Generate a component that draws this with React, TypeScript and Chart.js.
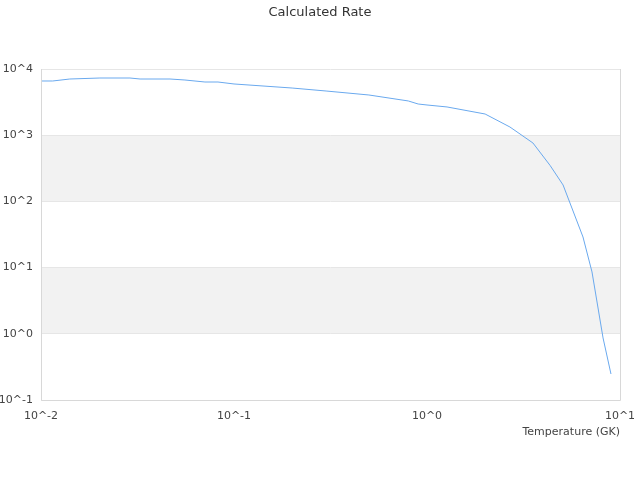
import React, { useEffect, useRef } from "react";
import { Chart, registerables } from "chart.js";

Chart.register(...registerables);

const temperatures = [
  0.01, 0.0115, 0.0141, 0.0202, 0.0289, 0.0326, 0.0466, 0.0557, 0.0707, 0.0826,
  0.1, 0.2, 0.3, 0.5, 0.8, 0.9, 1.0, 1.27, 2.0, 2.69, 3.54, 4.34, 5.07, 6.43,
  7.16, 8.17, 8.98,
];
const rates = [
  6590, 6590, 7060, 7310, 7310, 7060, 7060, 6820, 6360, 6360,
  5940, 5160, 4650, 4050, 3290, 2960, 2860, 2670, 2090, 1330, 762, 350, 177, 29,
  8.6, 0.865, 0.247,
];
const xTickValues = [0.01, 0.1, 1, 10];
const yTickValues = [0.1, 1, 10, 100, 1000, 10000];
const bandRanges = [
  [100, 1000],
  [1, 10],
];
const chartTitle = "Calculated Rate";

const FONT = "'DejaVu Sans', Verdana, sans-serif";

const fmt = (v: number) => "10^" + Math.round(Math.log10(v));

const bandsPlugin = {
  id: "bands",
  beforeDraw(chart: any) {
    const { ctx, chartArea } = chart;
    const y = chart.scales.y;
    ctx.save();
    ctx.fillStyle = "#f2f2f2";
    bandRanges.forEach(([lo, hi]) => {
      const top = y.getPixelForValue(hi);
      const bottom = y.getPixelForValue(lo);
      ctx.fillRect(chartArea.left, top, chartArea.right - chartArea.left, bottom - top);
    });
    ctx.restore();
  },
  afterDraw(chart: any) {
    const { ctx, chartArea } = chart;
    ctx.save();
    ctx.strokeStyle = "#d8d8d8";
    ctx.lineWidth = 1;
    ctx.beginPath();
    ctx.moveTo(chartArea.left + 0.5, chartArea.top);
    ctx.lineTo(chartArea.left + 0.5, chartArea.bottom + 0.5);
    ctx.lineTo(chartArea.right + 0.5, chartArea.bottom + 0.5);
    ctx.lineTo(chartArea.right + 0.5, chartArea.top);
    ctx.stroke();
    ctx.fillStyle = "#333333";
    ctx.font = "13px " + FONT;
    ctx.textAlign = "center";
    ctx.textBaseline = "middle";
    ctx.fillText(chartTitle, chart.width / 2, 12.5);
    ctx.restore();
  },
};

export default function App() {
  const ref = useRef<HTMLCanvasElement>(null);

  useEffect(() => {
    document.body.style.margin = "0";
    const canvas = ref.current;
    if (!canvas) return;
    const chart = new Chart(canvas, {
      type: "line",
      data: {
        datasets: [
          {
            label: "Rate",
            data: temperatures.map((t, i) => ({ x: t, y: rates[i] })),
            borderColor: "#6aa9ee",
            borderWidth: 1,
            pointRadius: 0,
            tension: 0,
            fill: false,
          },
        ],
      },
      options: {
        animation: false,
        responsive: false,
        devicePixelRatio: 1,
        layout: { padding: { left: 0, right: 20, top: 69, bottom: 0 } },
        plugins: {
          legend: { display: false },
          tooltip: { enabled: false },
          title: { display: false },
        },
        scales: {
          x: {
            type: "logarithmic",
            min: 0.01,
            max: 10,
            afterBuildTicks(scale: any) {
              scale.ticks = xTickValues.map((v) => ({ value: v }));
            },
            afterFit(scale: any) {
              scale.height = 80;
            },
            grid: { display: false },
            border: { display: false },
            ticks: {
              autoSkip: false,
              maxRotation: 0,
              padding: 2,
              color: "#444444",
              font: { family: FONT, size: 11 },
              callback: (v: any) => fmt(Number(v)),
            },
            title: {
              display: true,
              text: "Temperature (GK)",
              align: "end",
              color: "#444444",
              font: { family: FONT, size: 11 },
              padding: { top: 0, bottom: 41 },
            },
          },
          y: {
            type: "logarithmic",
            min: 0.1,
            max: 10000,
            afterBuildTicks(scale: any) {
              scale.ticks = yTickValues.map((v) => ({ value: v }));
            },
            afterFit(scale: any) {
              scale.width = 41;
            },
            grid: { color: "#e6e6e6", drawTicks: false },
            border: { display: false },
            ticks: {
              autoSkip: false,
              padding: 8,
              color: "#444444",
              font: { family: FONT, size: 11 },
              callback: (v: any) => fmt(Number(v)),
            },
          },
        },
      },
      plugins: [bandsPlugin],
    } as any);
    return () => chart.destroy();
  }, []);

  return (
    <div style={{ width: 640, height: 480 }}>
      <canvas ref={ref} width={640} height={480} />
    </div>
  );
}
